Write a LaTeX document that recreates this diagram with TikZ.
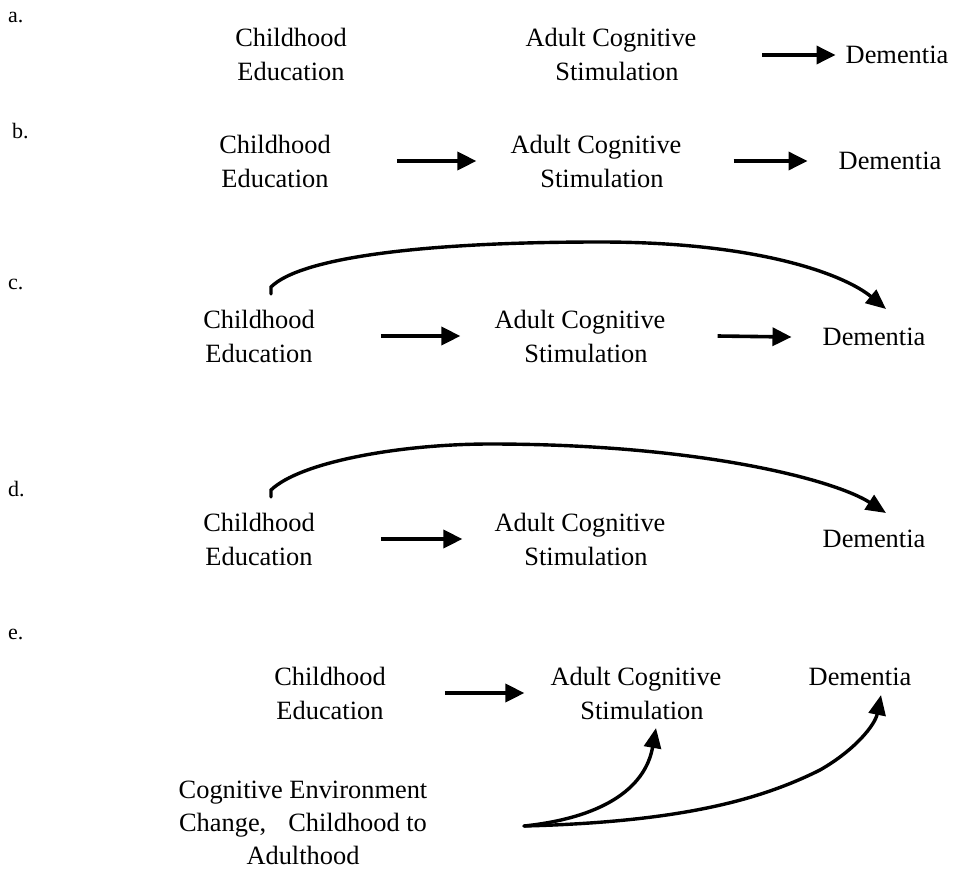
\documentclass[tikz,border=0pt]{standalone}
\usepackage{fontspec}
\setmainfont{Liberation Serif}
\usetikzlibrary{arrows.meta}
\begin{document}
\begin{tikzpicture}[x=1pt,y=-1pt,
  txt/.style={inner sep=0pt,align=center,font=\fontsize{26.4}{34}\selectfont},
  lab/.style={inner sep=0pt,anchor=west,font=\fontsize{22}{26}\selectfont},
  arr/.style={line width=3.6pt,-{Triangle[length=19pt,width=18pt]}},
  curv/.style={line width=3.4pt,line cap=round,-{Triangle[length=20pt,width=17pt]}}]
\useasboundingbox (0,0) rectangle (960,870);
% a
\node[lab] (la) at (8,17) {a.};
\node[txt] (cea) at (291,54) {Childhood\\Education};
\node[txt] (aca) at (611,54) {Adult Cognitive\\\hspace{12pt}Stimulation};
\node[txt] (dea) at (897,55) {Dementia};
\coordinate (a1) at (762,55);
\draw[arr] (a1) -- ([xshift=-10pt]dea.west);
% b
\node[lab] (lb) at (12,131) {b.};
\node[txt] (ceb) at (275,161) {Childhood\\Education};
\node[txt] (acb) at (596,161) {Adult Cognitive\\\hspace{12pt}Stimulation};
\node[txt] (deb) at (890,161) {Dementia};
\draw[arr] ([xshift=66pt]ceb.east) -- ([xshift=-34pt]acb.west);
\draw[arr] ([xshift=52pt]acb.east) -- ([xshift=-31pt]deb.west);
% c
\node[lab] (lc) at (8,284) {c.};
\node[txt] (cec) at (259,336) {Childhood\\Education};
\node[txt] (acc) at (580,336) {Adult Cognitive\\\hspace{12pt}Stimulation};
\node[txt] (dec) at (874,337) {Dementia};
\draw[arr] ([xshift=66pt]cec.east) -- ([xshift=-34pt]acc.west);
\draw[arr] ([xshift=52pt]acc.east) -- ([xshift=-31pt]dec.west);
\coordinate (c0) at (271,294);
\coordinate (c1) at (886,309);
\draw[curv] (c0) -- ++(0,-7) .. controls (300,258) and (420,242) .. (600,242)
  .. controls (760,242) and (845,275) .. (c1);
% d
\node[lab] (ld) at (8,489) {d.};
\node[txt] (ced) at (259,539) {Childhood\\Education};
\node[txt] (acd) at (580,539) {Adult Cognitive\\\hspace{12pt}Stimulation};
\node[txt] (ded) at (874,539) {Dementia};
\draw[arr] ([xshift=66pt]ced.east) -- ([xshift=-32pt]acd.west);
\coordinate (d0) at (271,497);
\coordinate (d1) at (886,513);
\draw[curv] (d0) -- ++(0,-7) .. controls (300,462) and (400,444) .. (490,444)
  .. controls (700,444) and (835,480) .. (d1);
% e
\node[lab] (le) at (8,634) {e.};
\node[txt] (cee) at (330,693) {Childhood\\Education};
\node[txt] (ace) at (636,693) {Adult Cognitive\\\hspace{12pt}Stimulation};
\node[txt] (dee) at (860,677) {Dementia};
\draw[arr] ([xshift=59pt]cee.east) -- ([xshift=-26pt]ace.west);
\node[txt,font=\fontsize{26.4}{33}\selectfont] (cenv) at (303,823) {Cognitive Environment\\Change,\hspace{22pt}Childhood to\\Adulthood};
\coordinate (e0) at (524,826);
\coordinate (e1) at (656,728);
\coordinate (e2) at (881,695);
\draw[curv] (e0) .. controls (600,818) and (645,790) .. (e1);
\draw[curv] (e0) .. controls (680,822) and (760,800) .. (820,770) .. controls (855,750) and (875,725) .. (e2);
\end{tikzpicture}
\end{document}
